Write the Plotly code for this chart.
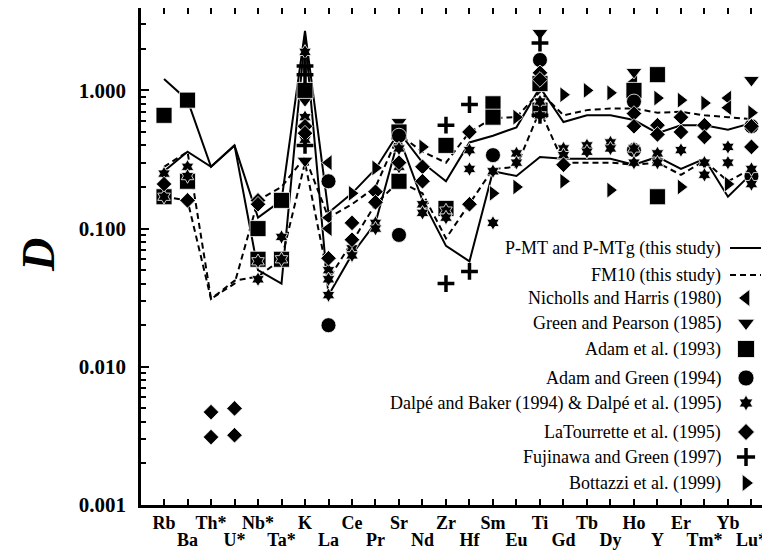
import plotly.graph_objects as go

cats = ["Rb", "Ba", "Th*", "U*", "Nb*", "Ta*", "K", "La", "Ce", "Pr", "Sr", "Nd", "Zr",
        "Hf", "Sm", "Eu", "Ti", "Gd", "Tb", "Dy", "Ho", "Y", "Er", "Tm*", "Yb", "Lu*"]

# this study - lines
pmt_a = [1.21, 0.85, 0.28, 0.40, 0.12, 0.16, 2.7, 0.13, 0.18, 0.27, 0.50, 0.30, 0.22,
         0.42, 0.47, 0.54, 1.05, 0.59, 0.66, 0.66, 0.61, 0.49, 0.56, 0.56, 0.52, 0.58]
pmt_b = [0.26, 0.36, 0.28, 0.40, 0.05, 0.04, 2.5, 0.033, 0.065, 0.11, 0.46, 0.16, 0.075,
         0.058, 0.26, 0.24, 0.33, 0.32, 0.32, 0.32, 0.29, 0.33, 0.27, 0.32, 0.17, 0.25]
fm10_a = [0.28, 0.36, 0.031, 0.040, 0.16, 0.20, 0.33, 0.12, 0.15, 0.20, 0.48, 0.36, 0.30,
          0.50, 0.63, 0.64, 0.98, 0.66, 0.72, 0.74, 0.74, 0.69, 0.70, 0.66, 0.64, 0.62]
fm10_b = [0.17, 0.16, 0.031, 0.042, 0.045, 0.06, 0.30, 0.043, 0.08, 0.15, 0.22, 0.18, 0.085,
          0.15, 0.27, 0.28, 0.72, 0.30, 0.30, 0.30, 0.29, 0.30, 0.245, 0.31, 0.22, 0.27]

# literature data (element, D)
nh_el = ["La", "La", "La", "Sm", "Ho", "Ho", "Yb", "Yb"]
nh_d = [0.30, 0.12, 0.10, 0.72, 1.15, 0.95, 0.88, 0.75]

gp_el = ["K", "K", "Sr", "Ti", "Ho", "Lu*"]
gp_d = [0.85, 0.31, 0.59, 2.6, 1.36, 1.19]

ad93_el = ["Rb", "Rb", "Ba", "Ba", "Nb*", "Nb*", "Ta*", "Ta*", "K", "Sr", "Sr", "Zr", "Zr",
           "Sm", "Sm", "Ti", "Ti", "Ho", "Y", "Y"]
ad93_d = [0.66, 0.17, 0.85, 0.22, 0.10, 0.06, 0.16, 0.06, 1.0, 0.50, 0.22, 0.40, 0.14,
          0.80, 0.64, 1.12, 0.72, 1.0, 1.3, 0.17]

ag94_el = ["La", "La", "Sr", "Sr", "Sm", "Ti", "Ho", "Ho", "Lu*", "Lu*"]
ag94_d = [0.22, 0.020, 0.47, 0.09, 0.34, 1.66, 0.83, 0.37, 0.55, 0.24]

db_el = ["Rb", "Rb", "Ba", "Ba", "Nb*", "Nb*", "Ta*", "Ta*", "K", "K", "K", "La", "La", "La",
         "Ce", "Ce", "Pr", "Pr", "Sr", "Sr", "Nd", "Nd", "Zr", "Zr", "Hf", "Hf", "Sm", "Sm",
         "Eu", "Eu", "Ti", "Ti", "Gd", "Gd", "Tb", "Tb", "Dy", "Dy", "Ho", "Ho", "Y", "Y",
         "Er", "Tm*", "Tm*", "Yb", "Yb", "Lu*", "Lu*"]
db_d = [0.25, 0.17, 0.28, 0.24, 0.058, 0.043, 0.087, 0.06, 1.9, 0.64, 0.44, 0.05, 0.043, 0.033,
        0.072, 0.064, 0.11, 0.10, 0.38, 0.28, 0.15, 0.13, 0.135, 0.12, 0.37, 0.27, 0.26, 0.11,
        0.35, 0.30, 0.83, 0.66, 0.38, 0.34, 0.40, 0.36, 0.42, 0.38, 0.38, 0.30, 0.35, 0.30,
        0.37, 0.30, 0.245, 0.39, 0.30, 0.27, 0.21]

lt_el = ["Rb", "Ba", "Th*", "Th*", "U*", "U*", "Nb*", "Nb*", "K", "K", "La", "Ce", "Ce", "Pr", "Pr",
         "Sr", "Nd", "Nd", "Hf", "Hf", "Ti", "Ti", "Gd", "Ho", "Ho", "Y", "Y", "Er", "Er",
         "Tm*", "Tm*", "Lu*", "Lu*"]
lt_d = [0.21, 0.16, 0.0047, 0.0031, 0.0050, 0.0032, 0.16, 0.15, 0.55, 0.49, 0.061, 0.11, 0.083,
        0.185, 0.155, 0.30, 0.28, 0.22, 0.50, 0.15, 1.34, 1.2, 0.29, 0.68, 0.55, 0.56, 0.48,
        0.64, 0.50, 0.56, 0.46, 0.55, 0.39]

fg_el = ["K", "K", "K", "Zr", "Zr", "Hf", "Hf", "Ti", "Ti"]
fg_d = [1.5, 1.3, 0.40, 0.56, 0.040, 0.79, 0.049, 2.2, 0.66]

bt_el = ["Ce", "Pr", "Nd", "Sm", "Eu", "Eu", "Gd", "Gd", "Tb", "Dy", "Dy", "Y", "Er", "Er",
         "Tm*", "Yb", "Lu*"]
bt_d = [0.18, 0.275, 0.39, 0.18, 0.64, 0.20, 0.93, 0.22, 1.0, 0.96, 0.19, 0.88, 0.85, 0.20,
        0.81, 0.21, 0.69]

legend_labels = ["P-MT and P-MTg (this study)", "FM10 (this study)", "Nicholls and Harris (1980)",
                 "Green and Pearson (1985)", "Adam et al. (1993)", "Adam and Green (1994)",
                 "Dalpé and Baker (1994) & Dalpé et al. (1995)", "LaTourrette et al. (1995)",
                 "Fujinawa and Green (1997)", "Bottazzi et al. (1999)"]

ytick_vals = [0.001, 0.01, 0.1, 1.0]
ytick_text = ["0.001", "0.010", "0.100", "1.000"]

# ---------------------------------------------------------------
# page body has an 8px margin; figure is sized/offset to compensate
OFF = 8
W, H = 770 - OFF, 553 - OFF
PL, PR, PT, PB = 141, 770, 8, 505          # plot area in screen pixels
L, R, T, B = PL - OFF, 0, PT - OFF, H - (PB - OFF)
serif = "Liberation Serif"

xi = list(range(len(cats)))
odd = [i for i in xi if i % 2 == 1]
fig = go.Figure()

line_style = [(pmt_a, "solid"), (pmt_b, "solid"), (fm10_a, "6px,4px"), (fm10_b, "6px,4px")]
for vals, dash in line_style:
    fig.add_trace(go.Scatter(x=xi, y=vals, mode="lines",
                             line=dict(color="black", width=2, dash=dash),
                             showlegend=False, hoverinfo="skip"))

marker_sets = [
    (nh_el, nh_d, "triangle-left", 14),
    (gp_el, gp_d, "triangle-down", 14),
    (ad93_el, ad93_d, "square", 16),
    (ag94_el, ag94_d, "circle", 15),
    (db_el, db_d, "hexagram", 11),
    (lt_el, lt_d, "diamond", 12),
    (fg_el, fg_d, "cross-thin", 12),
    (bt_el, bt_d, "triangle-right", 14),
]


def marker_style(sym, sz):
    if sym == "cross-thin":
        return dict(symbol=sym, size=sz, color="black", line=dict(color="black", width=3.5))
    return dict(symbol=sym, size=sz, color="black", line=dict(color="white", width=0.8))


for el, d, sym, sz in marker_sets:
    fig.add_trace(go.Scatter(x=[cats.index(e) for e in el], y=d, mode="markers",
                             marker=marker_style(sym, sz), showlegend=False, hoverinfo="skip"))

# custom legend (text on left, key on right), drawn in a screen-pixel overlay
leg_rows = [248, 275, 298, 323, 349, 378, 403, 432, 457, 483]
key_x = 746
for i, row in enumerate(leg_rows):
    fig.add_annotation(x=723, y=row, xref="x2", yref="y2", text=legend_labels[i],
                       showarrow=False, xanchor="right", yanchor="middle",
                       font=dict(family=serif, size=18, color="black"))
for row, dash in zip(leg_rows[:2], ["solid", "6px,4px"]):
    fig.add_trace(go.Scatter(x=[730, 761], y=[row, row], xaxis="x2", yaxis="y2", mode="lines",
                             line=dict(color="black", width=2, dash=dash),
                             showlegend=False, hoverinfo="skip"))
for (el, d, sym, sz), row in zip(marker_sets, leg_rows[2:]):
    fig.add_trace(go.Scatter(x=[key_x], y=[row], xaxis="x2", yaxis="y2", mode="markers",
                             marker=marker_style(sym, sz + 1), showlegend=False, hoverinfo="skip"))

# second row of category labels on an overlay axis
fig.add_trace(go.Scatter(x=[], y=[], xaxis="x3", yaxis="y", showlegend=False, hoverinfo="skip"))

tickfont = dict(family=serif, size=18, color="black")
fig.update_layout(
    width=W, height=H,
    margin=dict(l=L, r=R, t=T, b=B, pad=0, autoexpand=False),
    paper_bgcolor="white", plot_bgcolor="white",
    showlegend=False,
    xaxis=dict(range=[-0.98, 25.79], tickvals=xi,
               ticktext=[("<b>%s</b>" % c) if i % 2 == 0 else "" for i, c in enumerate(cats)],
               tickangle=0, showgrid=False, automargin=False, ticklabelstandoff=0,
               zeroline=False, showline=True, linecolor="black", linewidth=2.5,
               mirror="ticks", ticks="inside", ticklen=6, tickwidth=2, tickcolor="black",
               tickfont=tickfont),
    xaxis3=dict(range=[-0.98, 25.79], tickvals=odd,
                ticktext=["<b>%s</b>" % cats[i] for i in odd],
                tickangle=0, showgrid=False, automargin=False, ticklabelstandoff=22,
                overlaying="x", anchor="y", side="bottom", showline=False, zeroline=False,
                ticks="", tickfont=tickfont, fixedrange=True),
    yaxis=dict(type="log", range=[-3, (PB - PT) / 138.2 - 3], tickvals=ytick_vals,
               ticktext=["<b>%s</b>" % t for t in ytick_text], showgrid=False,
               automargin=False,
               zeroline=False, showline=True, linecolor="black", linewidth=2.5,
               mirror="ticks", ticks="inside", ticklen=8, tickwidth=2, tickcolor="black",
               ticklabelstandoff=8,
               minor=dict(ticks="inside", ticklen=5, tickwidth=1.5, tickcolor="black",
                          dtick="D1", showgrid=False),
               tickfont=dict(family=serif, size=21, color="black")),
    xaxis2=dict(domain=[0, 1], range=[PL, PR], overlaying="x", visible=False, anchor="y2",
                fixedrange=True),
    yaxis2=dict(domain=[0, 1], range=[PB, PT], overlaying="y", visible=False, anchor="x2",
                fixedrange=True),
)

fig.add_annotation(x=(38 - PL) / (PR - PL), y=(PB - 255) / (PB - PT), xref="paper", yref="paper",
                   text="<b><i>D</i></b>", textangle=-90, showarrow=False,
                   xanchor="center", yanchor="middle",
                   font=dict(family=serif, size=46, color="black"))

fig.write_html("out.html")
